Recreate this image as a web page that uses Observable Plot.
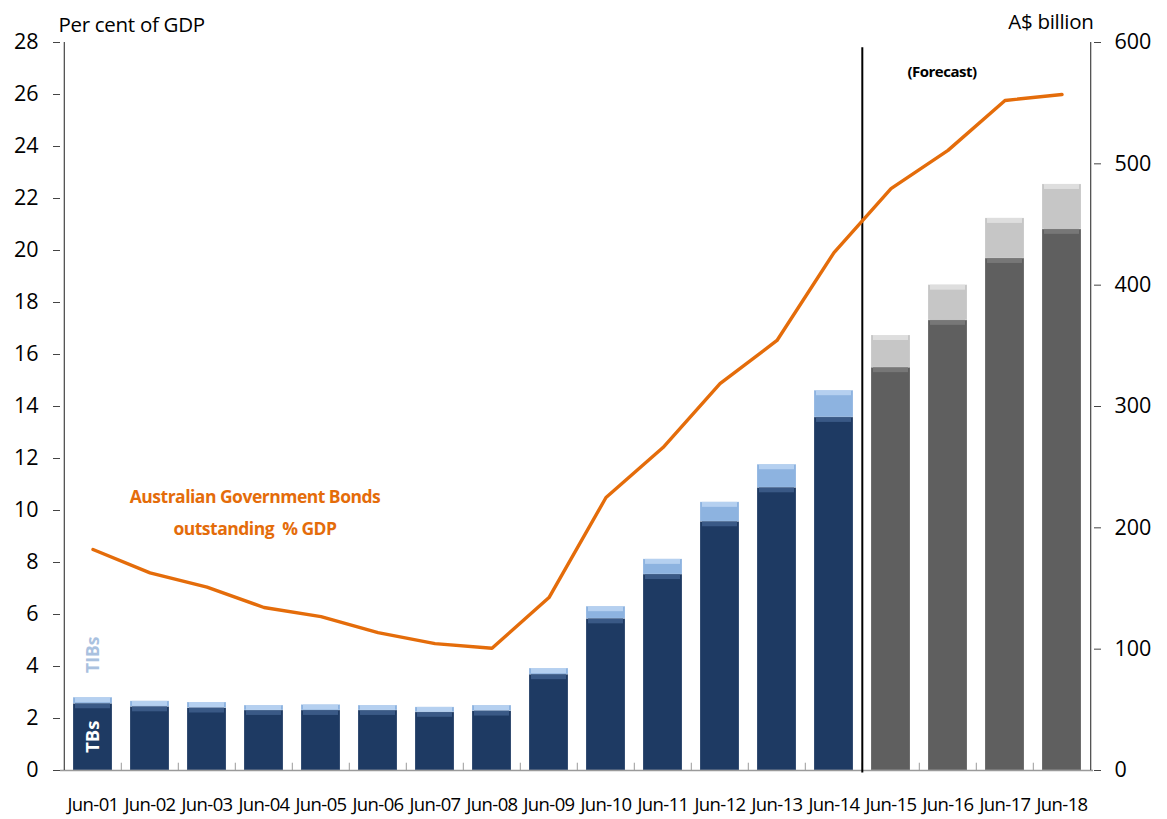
<!DOCTYPE html>
<html>
<head>
<meta charset="utf-8">
<script src="https://cdn.jsdelivr.net/npm/d3@7"></script>
<script src="https://cdn.jsdelivr.net/npm/@observablehq/plot@0.6"></script>
<style>
  html, body { margin: 0; padding: 0; background: #fff; }
  #chart svg { display: block; }
  #chart g[aria-label="x-axis tick label"] text { letter-spacing: -0.6px; }
  #chart .tight text { letter-spacing: -0.5px; }
  #chart .tight2 text { letter-spacing: -0.3px; }
</style>
</head>
<body>
<div id="chart"></div>
<script>
const categories = ["Jun-01","Jun-02","Jun-03","Jun-04","Jun-05","Jun-06","Jun-07","Jun-08","Jun-09",
  "Jun-10","Jun-11","Jun-12","Jun-13","Jun-14","Jun-15","Jun-16","Jun-17","Jun-18"];
// Australian Government Bonds outstanding, % of GDP (left axis)
const bondsPctGDP = [8.5, 7.6, 7.05, 6.27, 5.92, 5.3, 4.88, 4.7, 6.65, 10.5, 12.42, 14.88, 16.54, 19.92, 22.38, 23.85, 25.77, 26.0];
// Total outstanding, A$ billion (right axis)
const totalBillion = [60, 57, 56, 53.5, 54, 53.5, 52, 53.5, 84, 135, 174, 221, 252, 313, 358.5, 400, 455, 483];
// TIBs (Treasury Indexed Bonds) part, A$ billion
const tibsBillion = [5, 4.5, 4.5, 4, 4.5, 4, 4, 4.5, 5, 10, 12.5, 16, 19, 22, 26.5, 29, 33, 37];
const forecastStart = "Jun-15";
const leftTicks = [0,2,4,6,8,10,12,14,16,18,20,22,24,26,28];
const rightTicks = [0,100,200,300,400,500,600];
const leftMax = 28, rightMax = 600;

const k = leftMax / rightMax; // A$ billion -> left-axis units
const firstForecast = categories.indexOf(forecastStart);

const segments = [];
categories.forEach((c, i) => {
  const fc = i >= firstForecast;
  const tbs = totalBillion[i] - tibsBillion[i];
  segments.push({cat: c, y1: 0, y2: tbs * k, fill: fc ? "#5f5f5f" : "#1e3a63", edge: fc ? "#7b7b7b" : "#3f5f8c"});
  segments.push({cat: c, y1: tbs * k, y2: totalBillion[i] * k, fill: fc ? "#c6c6c6" : "#8db3e0", edge: fc ? "#e2e2e2" : "#bcd5f2"});
});
const line = categories.map((c, i) => ({cat: c, v: bondsPctGDP[i]}));

const W = 1167, H = 819;
const mL = 60, mR = 74, mT = 42, mB = 49;
const step = (W - mL - mR) / categories.length;
const half = step / 2;
const FONT = "'Open Sans', sans-serif";

const chart = Plot.plot({
  width: W, height: H,
  marginLeft: mL, marginRight: mR, marginTop: mT, marginBottom: mB,
  style: {fontFamily: FONT, color: "#000", background: "#fff", overflow: "visible"},
  x: {domain: categories, paddingInner: 0.32, paddingOuter: 0.16, label: null},
  y: {domain: [0, leftMax], label: null},
  marks: [
    // stacked bars
    Plot.barY(segments, {x: "cat", y1: "y1", y2: "y2", fill: "fill", stroke: "#ffffff", strokeOpacity: 0.2, strokeWidth: 1}),
    // bevel highlight strip at top of each segment
    Plot.barY(segments, {x: "cat", y1: "y2", y2: "y2", insetBottom: -5, insetLeft: 2, insetRight: 2, fill: "edge", fillOpacity: 0.85}),
    // baseline
    Plot.ruleY([0], {stroke: "#9a9a9a", strokeWidth: 1.5}),
    // category boundary ticks
    Plot.ruleX(categories.slice(1), {x: d => d, dx: -half, y1: 0, y2: 0.28, stroke: "#9a9a9a"}),
    // left and right axis lines
    Plot.ruleX([categories[0]], {x: d => d, dx: -half, y1: 0, y2: leftMax, stroke: "#444", strokeWidth: 1.2}),
    Plot.ruleX([categories[categories.length - 1]], {x: d => d, dx: half, y1: 0, y2: leftMax, stroke: "#444", strokeWidth: 1.2}),
    // forecast divider
    Plot.ruleX([forecastStart], {x: d => d, dx: -half, y1: -0.1, y2: 27.8, stroke: "#000", strokeWidth: 2}),
    // line
    Plot.lineY(line, {x: "cat", y: "v", stroke: "#e46c0a", strokeWidth: 3.4}),
    // axes: ticks
    Plot.axisY(leftTicks, {anchor: "left", tickSize: 7, text: null, label: null, stroke: "#444"}),
    Plot.axisY(rightTicks.map(v => v * k), {anchor: "right", tickSize: 7, text: null, label: null, stroke: "#444"}),
    // axes: tick labels
    Plot.text(leftTicks, {y: d => d, text: d => String(d), frameAnchor: "left", textAnchor: "end", dx: -22, fontSize: 21.5, fill: "#000"}),
    Plot.text(rightTicks, {y: d => d * k, text: d => String(d), frameAnchor: "right", textAnchor: "start", dx: 21, fontSize: 21.5, fill: "#000"}),
    Plot.axisX({tickSize: 0, tickPadding: 27, fontSize: 18.5, label: null}),
    // axis titles
    Plot.text(["Per cent of GDP"], {frameAnchor: "top-left", textAnchor: "start", lineAnchor: "bottom", dx: -2, dy: -11, fontSize: 20.5, fill: "#000", className: "tight2"}),
    Plot.text(["A$ billion"], {frameAnchor: "top-right", textAnchor: "end", lineAnchor: "bottom", dx: 0, dy: -14, fontSize: 20.5, fill: "#000", className: "tight2"}),
    // annotations
    Plot.text(["(Forecast)"], {x: () => "Jun-16", y: () => 26.85, dx: -6, fontSize: 15, fontWeight: "bold", fill: "#000", className: "tight"}),
    Plot.text(["Australian Government Bonds\noutstanding  % GDP"], {x: () => "Jun-04", y: () => 10.07, dx: -9, fontSize: 17.5, fontWeight: "bold", fill: "#e46c0a", lineHeight: 1.85, className: "tight"}),
    Plot.text(["TBs"], {x: () => "Jun-01", y: () => 1.3, rotate: -90, fontSize: 18.5, fontWeight: "bold", fill: "#ffffff"}),
    Plot.text(["TIBs"], {x: () => "Jun-01", y: () => 4.45, rotate: -90, fontSize: 17.5, fontWeight: "bold", fill: "#a9c1df"})
  ]
});
document.getElementById("chart").appendChild(chart);
</script>
</body>
</html>
